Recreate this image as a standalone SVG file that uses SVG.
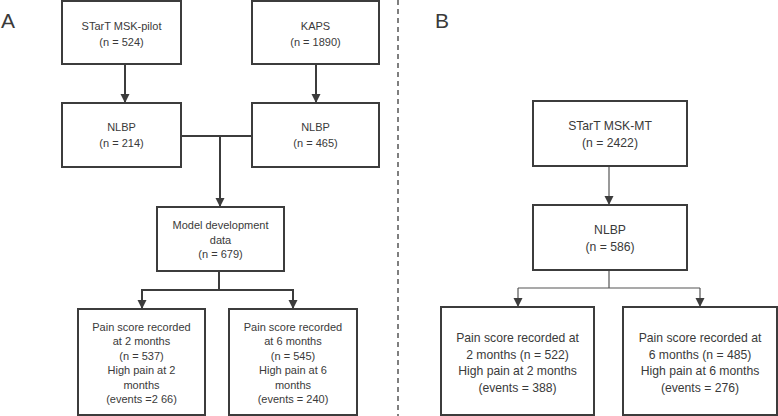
<svg xmlns="http://www.w3.org/2000/svg" width="778" height="416" viewBox="0 0 778 416">
<defs>
<marker id="ah" markerUnits="userSpaceOnUse" markerWidth="10" markerHeight="10" refX="9" refY="5" orient="auto" viewBox="0 0 10 10">
<path d="M0,0.5 L9,5 L0,9.5 z" fill="#3c3c3c"/>
</marker>
</defs>
<style>
.box{fill:#fff;stroke:#3c3c3c;stroke-width:2}
.a{font-family:"Liberation Sans",Arial,sans-serif;font-size:11px;fill:#3a3a3a;text-anchor:middle}
.b{font-family:"Liberation Sans",Arial,sans-serif;font-size:12.2px;fill:#3a3a3a;text-anchor:middle}
.ca{fill:none;stroke:#3c3c3c;stroke-width:2}
.cb{fill:none;stroke:#555;stroke-width:1.2}
.lbl{font-family:"Liberation Sans",Arial,sans-serif;font-size:21px;fill:#3a3a3a}
</style>
<rect width="778" height="416" fill="#fff"/>
<text class="lbl" x="1" y="28">A</text>
<text class="lbl" x="435" y="28">B</text>
<line x1="398" y1="0" x2="398" y2="416" stroke="#555" stroke-width="1.5" stroke-dasharray="5,4"/>
<g id="connectors">
<line class="ca" x1="125" y1="64" x2="125" y2="103" marker-end="url(#ah)"/>
<line class="ca" x1="316" y1="64" x2="316" y2="103" marker-end="url(#ah)"/>
<line class="ca" x1="181" y1="136" x2="252" y2="136"/>
<line class="ca" x1="220" y1="136" x2="220" y2="207" marker-end="url(#ah)"/>
<line class="ca" x1="219" y1="271" x2="219" y2="290"/>
<line class="ca" x1="141" y1="290" x2="294" y2="290"/>
<line class="ca" x1="142" y1="290" x2="142" y2="309" marker-end="url(#ah)"/>
<line class="ca" x1="293" y1="290" x2="293" y2="309" marker-end="url(#ah)"/>
<line class="cb" x1="609" y1="166" x2="609" y2="205" marker-end="url(#ah)"/>
<line class="cb" x1="609" y1="270" x2="609" y2="288"/>
<line class="cb" x1="518" y1="288" x2="700" y2="288"/>
<line class="cb" x1="518" y1="288" x2="518" y2="307" marker-end="url(#ah)"/>
<line class="cb" x1="700" y1="288" x2="700" y2="307" marker-end="url(#ah)"/>
</g>
<g id="a-startpilot">
<rect class="box" x="62" y="1" width="119" height="63"/>
<text class="a" x="121.5" y="30">STarT MSK-pilot</text>
<text class="a" x="121.5" y="46">(n = 524)</text>
</g>
<g id="a-kaps">
<rect class="box" x="252" y="1" width="127" height="63"/>
<text class="a" x="315.5" y="30">KAPS</text>
<text class="a" x="315.5" y="46">(n = 1890)</text>
</g>
<g id="a-nlbp1">
<rect class="box" x="62" y="103" width="119" height="64"/>
<text class="a" x="121.5" y="131">NLBP</text>
<text class="a" x="121.5" y="147">(n = 214)</text>
</g>
<g id="a-nlbp2">
<rect class="box" x="252" y="103" width="127" height="64"/>
<text class="a" x="315.5" y="131">NLBP</text>
<text class="a" x="315.5" y="147">(n = 465)</text>
</g>
<g id="a-model">
<rect class="box" x="157" y="207" width="127" height="64"/>
<text class="a" x="220.5" y="229">Model development</text>
<text class="a" x="220.5" y="243.5">data</text>
<text class="a" x="220.5" y="257.5">(n = 679)</text>
</g>
<g id="a-2m">
<rect class="box" x="78" y="309" width="127" height="106"/>
<text class="a" x="141.5" y="330.5">Pain score recorded</text>
<text class="a" x="141.5" y="345">at 2 months</text>
<text class="a" x="141.5" y="359.5">(n = 537)</text>
<text class="a" x="141.5" y="374">High pain at 2</text>
<text class="a" x="141.5" y="388.5">months</text>
<text class="a" x="141.5" y="403">(events =2 66)</text>
</g>
<g id="a-6m">
<rect class="box" x="229" y="309" width="128" height="106"/>
<text class="a" x="293" y="330.5">Pain score recorded</text>
<text class="a" x="293" y="345">at 6 months</text>
<text class="a" x="293" y="359.5">(n = 545)</text>
<text class="a" x="293" y="374">High pain at 6</text>
<text class="a" x="293" y="388.5">months</text>
<text class="a" x="293" y="403">(events = 240)</text>
</g>
<g id="b-startmt">
<rect class="box" x="533" y="101" width="154" height="65"/>
<text class="b" x="610" y="130.3">STarT MSK-MT</text>
<text class="b" x="610" y="147.3">(n = 2422)</text>
</g>
<g id="b-nlbp">
<rect class="box" x="533" y="205" width="154" height="65"/>
<text class="b" x="610" y="234.3">NLBP</text>
<text class="b" x="610" y="251">(n = 586)</text>
</g>
<g id="b-2m">
<rect class="box" x="441" y="307" width="153" height="108"/>
<text class="b" x="517.5" y="342">Pain score recorded at</text>
<text class="b" x="517.5" y="358.5">2 months (n = 522)</text>
<text class="b" x="517.5" y="375">High pain at 2 months</text>
<text class="b" x="517.5" y="391.5">(events = 388)</text>
</g>
<g id="b-6m">
<rect class="box" x="623" y="307" width="154" height="108"/>
<text class="b" x="700" y="342">Pain score recorded at</text>
<text class="b" x="700" y="358.5">6 months (n = 485)</text>
<text class="b" x="700" y="375">High pain at 6 months</text>
<text class="b" x="700" y="391.5">(events = 276)</text>
</g>
</svg>
